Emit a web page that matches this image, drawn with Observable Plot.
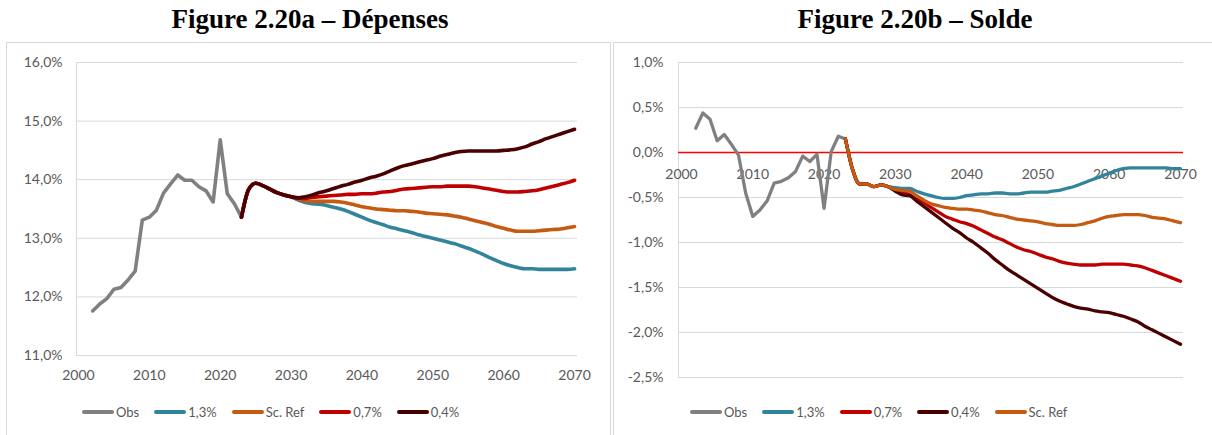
<!DOCTYPE html>
<html>
<head>
<meta charset="utf-8">
<script src="https://cdn.jsdelivr.net/npm/d3@7"></script>
<script src="https://cdn.jsdelivr.net/npm/@observablehq/plot@0.6"></script>
<style>
  body { margin:0; width:1212px; height:435px; background:#fff; position:relative; overflow:hidden; font-family: Lato, "Open Sans", sans-serif; }
  .title { position:absolute; top:4px; width:600px; text-align:center; font: bold 27px "Liberation Serif", "Times New Roman", serif; color:#000; }
  .panel { position:absolute; top:42px; height:420px; border:1px solid #d9d9d9; box-sizing:border-box; }
  .chart { position:absolute; top:40px; }
  .legend { position:absolute; top:404px; display:flex; gap:15px; font-size:13px; line-height:16px; color:#595959; align-items:center; }
  .item { display:flex; align-items:center; }
  .sw { width:32px; height:4px; border-radius:2px; margin-right:2px; }
</style>
</head>
<body>
<div class="panel" style="left:6px;width:605px;"></div>
<div class="panel" style="left:613px;width:605px;"></div>
<div class="title" style="left:10px;">Figure 2.20a – Dépenses</div>
<div class="title" style="left:615px;">Figure 2.20b – Solde</div>
<div id="left" class="chart" style="left:6px;"></div>
<div id="right" class="chart" style="left:613px;"></div>
<div id="legL" class="legend" style="left:82px;"></div>
<div id="legR" class="legend" style="left:690px;"></div>
<script>
// ---------- Data ----------
const obsYears = d3.range(2002, 2024);           // 2002..2023
const projYears = d3.range(2023, 2071);          // 2023..2070
const xTicks = [2000, 2010, 2020, 2030, 2040, 2050, 2060, 2070];

// Figure 2.20a – Dépenses (% du PIB)
const depTicks = [11, 12, 13, 14, 15, 16];
const depObs = [11.76,11.88,11.97,12.13,12.16,12.29,12.44,13.31,13.36,13.48,13.77,13.93,14.08,13.99,13.99,13.88,13.81,13.62,14.68,13.76,13.59,13.36];
const dep13 = [13.36,13.83,13.94,13.90,13.84,13.78,13.74,13.71,13.65,
  13.61,13.59,13.58,13.56,13.53,13.50,13.46,13.41,13.36,13.31,13.27,13.23,13.19,13.16,13.13,13.10,13.06,13.03,13.00,12.97,12.94,12.91,12.87,12.83,12.78,12.73,12.67,12.62,12.57,12.53,12.50,12.48,12.48,12.47,12.47,12.47,12.47,12.47,12.48];
const depRef = [13.36,13.83,13.94,13.90,13.84,13.78,13.74,13.71,13.67,
  13.64,13.63,13.63,13.63,13.63,13.62,13.60,13.57,13.54,13.52,13.50,13.49,13.48,13.47,13.47,13.46,13.45,13.43,13.42,13.41,13.40,13.38,13.36,13.33,13.30,13.27,13.24,13.20,13.17,13.14,13.12,13.12,13.12,13.13,13.14,13.15,13.16,13.18,13.20];
const dep07 = [13.36,13.83,13.94,13.90,13.84,13.78,13.74,13.71,13.69,
  13.68,13.70,13.71,13.72,13.73,13.74,13.75,13.75,13.76,13.76,13.77,13.79,13.80,13.82,13.84,13.85,13.86,13.87,13.88,13.88,13.89,13.89,13.89,13.89,13.88,13.86,13.84,13.82,13.80,13.79,13.79,13.80,13.81,13.83,13.86,13.89,13.92,13.95,13.99];
const dep04 = [13.36,13.83,13.94,13.90,13.84,13.78,13.74,13.71,13.69,
  13.71,13.74,13.78,13.81,13.85,13.89,13.92,13.96,13.99,14.03,14.06,14.10,14.15,14.20,14.24,14.27,14.30,14.33,14.36,14.40,14.43,14.46,14.48,14.49,14.49,14.49,14.49,14.49,14.50,14.51,14.53,14.56,14.61,14.65,14.70,14.74,14.78,14.82,14.86];

// Figure 2.20b – Solde (% du PIB)
const solTicks = [-2.5, -2, -1.5, -1, -0.5, 0, 0.5, 1];
const solObs = [0.27,0.44,0.37,0.13,0.20,0.09,-0.03,-0.45,-0.71,-0.64,-0.54,-0.34,-0.32,-0.28,-0.21,-0.04,-0.10,-0.02,-0.62,0.01,0.18,0.15];
const sol13 = [0.15,-0.19,-0.35,-0.35,-0.38,-0.36,-0.38,
  -0.39,-0.40,-0.40,-0.43,-0.46,-0.48,-0.50,-0.51,-0.51,-0.50,-0.48,-0.47,-0.46,-0.46,-0.45,-0.45,-0.46,-0.46,-0.45,-0.44,-0.44,-0.44,-0.43,-0.42,-0.40,-0.38,-0.35,-0.32,-0.29,-0.26,-0.23,-0.20,-0.18,-0.17,-0.17,-0.17,-0.17,-0.17,-0.17,-0.18,-0.18];
const solRef = [0.15,-0.19,-0.35,-0.35,-0.38,-0.36,-0.38,
  -0.41,-0.42,-0.43,-0.48,-0.53,-0.57,-0.59,-0.61,-0.62,-0.63,-0.63,-0.64,-0.65,-0.67,-0.69,-0.70,-0.72,-0.74,-0.75,-0.76,-0.77,-0.79,-0.80,-0.81,-0.81,-0.81,-0.80,-0.78,-0.76,-0.73,-0.71,-0.70,-0.69,-0.69,-0.69,-0.70,-0.72,-0.73,-0.74,-0.76,-0.78];
const sol07 = [0.15,-0.19,-0.35,-0.35,-0.38,-0.36,-0.38,
  -0.42,-0.44,-0.47,-0.52,-0.56,-0.61,-0.66,-0.71,-0.74,-0.77,-0.79,-0.82,-0.86,-0.90,-0.94,-0.97,-1.01,-1.05,-1.08,-1.10,-1.13,-1.16,-1.18,-1.21,-1.23,-1.24,-1.25,-1.25,-1.25,-1.24,-1.24,-1.24,-1.24,-1.25,-1.26,-1.28,-1.31,-1.34,-1.37,-1.40,-1.43];
const sol04 = [0.15,-0.19,-0.35,-0.35,-0.38,-0.36,-0.38,
  -0.43,-0.47,-0.48,-0.54,-0.60,-0.66,-0.72,-0.78,-0.84,-0.89,-0.95,-1.00,-1.06,-1.12,-1.19,-1.25,-1.31,-1.36,-1.41,-1.46,-1.51,-1.56,-1.61,-1.65,-1.68,-1.71,-1.73,-1.74,-1.76,-1.77,-1.78,-1.80,-1.82,-1.85,-1.88,-1.93,-1.97,-2.01,-2.05,-2.09,-2.13];

// Series names and colours
const names = { obs: "Obs", s13: "1,3%", ref: "Sc. Ref", s07: "0,7%", s04: "0,4%" };
const colors = { obs: "#808080", s13: "#31849b", ref: "#c55a11", s07: "#c00000", s04: "#4a0000" };

// ---------- Helpers ----------
const toRows = (years, vals) => years.map((year, i) => ({ year, value: vals[i] }));
const fmtPct = d => (d < 0 ? "-" : "") + Math.abs(d).toFixed(1).replace(".", ",") + "%";
const lineOpts = (key, curve) => ({ x: "year", y: "value", stroke: colors[key], strokeWidth: 3.6, strokeLinejoin: "round", strokeLinecap: "round", curve });
const style = { fontFamily: "Lato, 'Open Sans', sans-serif", fontSize: "14px", color: "#595959", background: "transparent", overflow: "visible" };

// ---------- Left chart ----------
const xDomL = [1999.72, 2070.42];
const left = Plot.plot({
  width: 605, height: 355,
  marginLeft: 70, marginRight: 34, marginTop: 22, marginBottom: 40,
  style,
  x: { domain: xDomL, ticks: xTicks, tickFormat: d => String(d), tickSize: 0, tickPadding: 15, label: null },
  y: { domain: [11, 16], ticks: depTicks, tickFormat: fmtPct, tickSize: 0, tickPadding: 14, label: null },
  marks: [
    Plot.ruleY(depTicks, { stroke: "#d9d9d9", strokeWidth: 1 }),
    Plot.ruleX([xDomL[0]], { stroke: "#d9d9d9", strokeWidth: 1 }),
    Plot.line(toRows(obsYears, depObs), lineOpts("obs", "linear")),
    Plot.line(toRows(projYears, dep13), lineOpts("s13", "monotone-x")),
    Plot.line(toRows(projYears, depRef), lineOpts("ref", "monotone-x")),
    Plot.line(toRows(projYears, dep07), lineOpts("s07", "monotone-x")),
    Plot.line(toRows(projYears, dep04), lineOpts("s04", "monotone-x"))
  ]
});
document.getElementById("left").append(left);

// ---------- Right chart ----------
const xDomR = [1999.58, 2070.42];
const right = Plot.plot({
  width: 599, height: 355,
  marginLeft: 65, marginRight: 29, marginTop: 22, marginBottom: 18,
  style,
  x: { domain: xDomR, axis: null },
  y: { domain: [-2.5, 1], ticks: solTicks, tickFormat: fmtPct, tickSize: 0, tickPadding: 15, label: null },
  marks: [
    Plot.ruleY(solTicks, { stroke: "#d9d9d9", strokeWidth: 1 }),
    Plot.ruleX([xDomR[0]], { stroke: "#d9d9d9", strokeWidth: 1 }),
    Plot.ruleY([0], { stroke: "#ff0000", strokeWidth: 1.5 }),
    Plot.text(xTicks, { x: d => d, y: d => 0, text: d => String(d), dy: 22, fill: "#595959", fontSize: 14 }),
    Plot.line(toRows(obsYears, solObs), { ...lineOpts("obs", "linear"), strokeWidth: 3.3 }),
    Plot.line(toRows(projYears, sol13), { ...lineOpts("s13", "monotone-x"), strokeWidth: 3.3 }),
    Plot.line(toRows(projYears, sol07), { ...lineOpts("s07", "monotone-x"), strokeWidth: 3.3 }),
    Plot.line(toRows(projYears, sol04), { ...lineOpts("s04", "monotone-x"), strokeWidth: 3.3 }),
    Plot.line(toRows(projYears, solRef), { ...lineOpts("ref", "monotone-x"), strokeWidth: 3.3 })
  ]
});
document.getElementById("right").append(right);

// ---------- Legends ----------
function legend(id, keys) {
  const el = document.getElementById(id);
  for (const k of keys) {
    const item = document.createElement("div");
    item.className = "item";
    const sw = document.createElement("span");
    sw.className = "sw";
    sw.style.background = colors[k];
    const tx = document.createElement("span");
    tx.textContent = names[k];
    item.append(sw, tx);
    el.append(item);
  }
}
legend("legL", ["obs", "s13", "ref", "s07", "s04"]);
legend("legR", ["obs", "s13", "s07", "s04", "ref"]);
</script>
</body>
</html>
